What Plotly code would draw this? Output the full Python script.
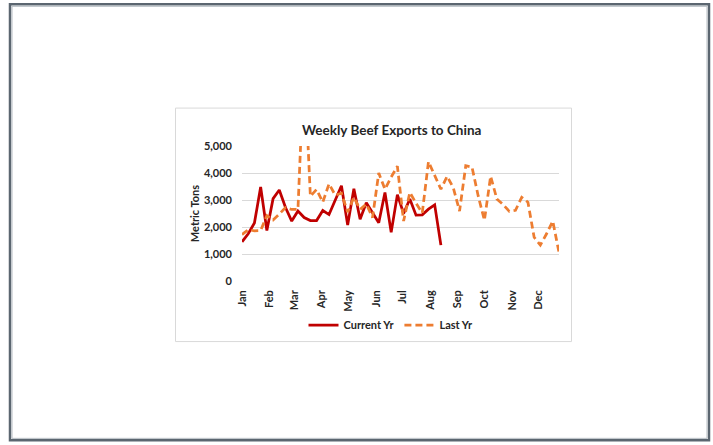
import pandas as pd
import plotly.graph_objects as go

# ---- data ----
week_dates = pd.date_range("2019-01-03", periods=52, freq="7D")
current_yr = [1450, 1750, 2150, 3480, 1870, 3050, 3370, 2720, 2220, 2590,
              2350, 2240, 2240, 2610, 2460, 3020, 3530, 2070, 3420, 2290,
              2900, 2530, 2160, 3280, 1800, 3200, 2500, 3040, 2440, 2450,
              2660, 2820, 1330]
last_yr = [1720, 1900, 1860, 1870, 2420, 2260, 2480, 2720, 2650, 2650,
           8200, 3140, 3390, 2920, 3600, 3180, 3250, 2550, 3100, 2650,
           2850, 2350, 4000, 3400, 3850, 4250, 2220, 3280, 2880, 2520,
           4420, 3880, 3400, 3880, 3450, 2590, 4270, 4220, 3150, 2250,
           3880, 3040, 2830, 2580, 2620, 3100, 2920, 1620, 1330, 1750,
           2220, 1060]
series_names = ["Current Yr", "Last Yr"]
y_ticks = [0, 1000, 2000, 3000, 4000, 5000]
title_text = "Weekly Beef Exports to China"
y_title = "Metric Tons"

# ---- layout geometry (pixels) ----
W, H = 713, 445
PL, PR, PT, PB = 242, 559, 146, 281.3
pw, ph = PR - PL, PB - PT


def px(x):
    return (x - PL) / pw


def py(y):
    return (PB - y) / ph


FONT = "Lato"
TXT = "#262626"

fig = go.Figure()
fig.add_trace(go.Scatter(
    x=week_dates[:len(current_yr)], y=current_yr, name=series_names[0],
    mode="lines", line=dict(color="#C00000", width=2.75)))
fig.add_trace(go.Scatter(
    x=week_dates[:len(last_yr)], y=last_yr, name=series_names[1],
    mode="lines", line=dict(color="#ED7D31", width=2.75, dash="7px,4px")))

fig.update_layout(
    width=W, height=H,
    margin=dict(l=PL, r=W - PR, t=PT, b=H - PB, autoexpand=False),
    paper_bgcolor="white", plot_bgcolor="white",
    font=dict(family=FONT, color=TXT, size=11),
    showlegend=True,
    legend=dict(orientation="h", x=px(391), xanchor="center",
                y=py(325.5), yanchor="middle",
                font=dict(family=FONT, size=11, color=TXT, weight="bold"),
                bgcolor="rgba(0,0,0,0)", itemwidth=30, tracegroupgap=0),
    xaxis=dict(type="date", range=[week_dates[0], week_dates[len(last_yr) - 1]],
               tick0=week_dates[0], dtick="M1", tickformat="%b",
               tickangle=-90, showgrid=False, zeroline=False, showline=False,
               ticks="", ticklabelstandoff=6,
               tickfont=dict(family=FONT, size=11, color=TXT, weight="bold")),
    yaxis=dict(range=[0, 5000], tickvals=y_ticks, tickformat=",",
               showgrid=True, gridcolor="#d9d9d9", gridwidth=1,
               zeroline=False, showline=False, ticks="", ticklabelstandoff=9,
               tickfont=dict(family=FONT, size=11, color=TXT, weight="bold"),
               title=dict(text=y_title, standoff=2,
                          font=dict(family=FONT, size=11, color=TXT, weight="bold"))),
    annotations=[dict(text=title_text, xref="paper", yref="paper",
                      x=px(391), y=py(130), xanchor="center", yanchor="middle",
                      showarrow=False,
                      font=dict(family=FONT, size=13.5, color=TXT, weight="bold"))],
    shapes=[
        # chart box
        dict(type="rect", xref="paper", yref="paper",
             x0=px(175.5), x1=px(571.5), y0=py(342), y1=py(108),
             line=dict(color="#d9d9d9", width=1), layer="below"),
        # outer frame
        dict(type="rect", xref="paper", yref="paper",
             x0=px(10), x1=px(709), y0=py(441), y1=py(4),
             line=dict(color="#5b6670", width=2.5), layer="below"),
        dict(type="rect", xref="paper", yref="paper",
             x0=px(12), x1=px(707), y0=py(439), y1=py(6),
             line=dict(color="#b5bcc2", width=1), layer="below"),
    ],
)

fig.write_html("out.html")
